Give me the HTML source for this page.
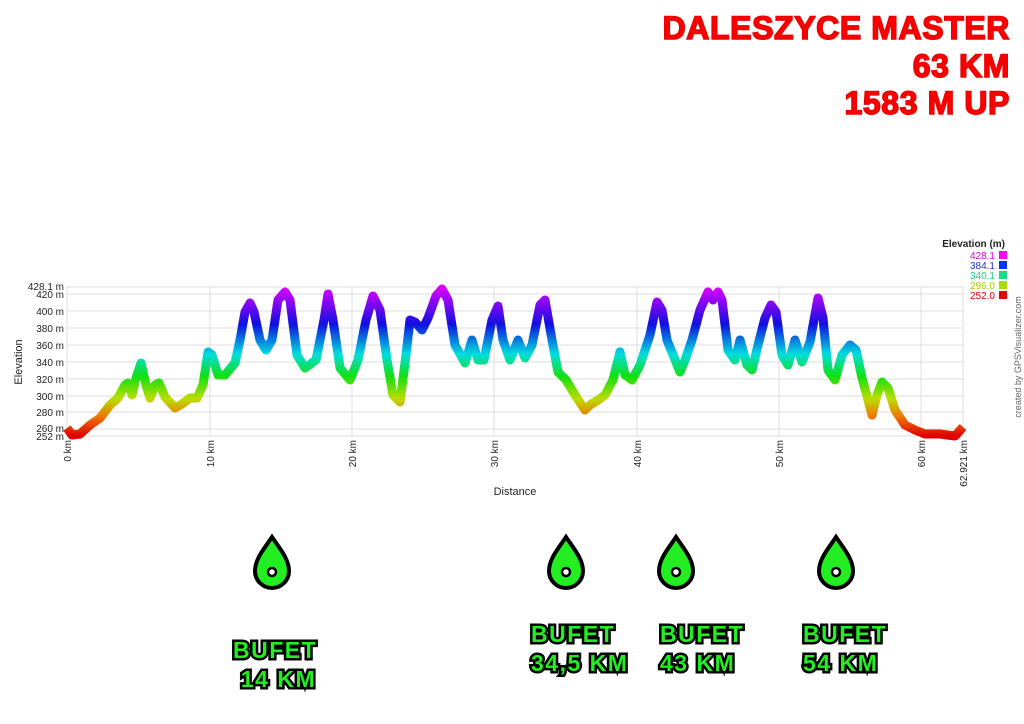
<!DOCTYPE html>
<html><head><meta charset="utf-8"><style>
html,body{margin:0;padding:0;background:#fff;}
body{width:1024px;height:724px;position:relative;overflow:hidden;font-family:"Liberation Sans",sans-serif;}
.t{position:absolute;right:14px;color:#ff0000;font-weight:900;font-size:32px;text-align:right;letter-spacing:0.6px;-webkit-text-stroke:1.5px #e00;}
.b{position:absolute;font-weight:900;font-size:23px;color:#22ee22;-webkit-text-stroke:5px #000;paint-order:stroke fill;line-height:29px;white-space:pre;letter-spacing:1.5px;}
</style></head><body>
<div class="t" style="top:10px">DALESZYCE MASTER</div>
<div class="t" style="top:48px">63 KM</div>
<div class="t" style="top:85px">1583 M UP</div>
<svg width="1024" height="724" style="position:absolute;left:0;top:0" font-family="Liberation Sans, sans-serif">
<defs>
<linearGradient id="g" gradientUnits="userSpaceOnUse" x1="0" y1="287" x2="0" y2="436">
<stop offset="0" stop-color="#dd00ff"/>
<stop offset="0.25" stop-color="#1010e0"/>
<stop offset="0.45" stop-color="#00dddd"/>
<stop offset="0.6" stop-color="#11e011"/>
<stop offset="0.75" stop-color="#bbdd00"/>
<stop offset="0.87" stop-color="#ee7700"/>
<stop offset="1" stop-color="#e00000"/>
</linearGradient>
<g id="drop"><path d="M0,-26 C-8,-14 -17,-4 -17,8 A17,17 0 0 0 17,8 C17,-4 8,-14 0,-26Z" fill="#22ee22" stroke="#000" stroke-width="4"/><circle cx="0" cy="9" r="4" fill="#fff" stroke="#000" stroke-width="2.5"/></g>
</defs>
<g stroke="#dcdcdc" stroke-width="1">
<line x1="67" y1="287" x2="963" y2="287"/>
<line x1="67" y1="294" x2="963" y2="294"/><line x1="67" y1="311" x2="963" y2="311"/><line x1="67" y1="328" x2="963" y2="328"/><line x1="67" y1="345" x2="963" y2="345"/><line x1="67" y1="362" x2="963" y2="362"/><line x1="67" y1="379" x2="963" y2="379"/><line x1="67" y1="396" x2="963" y2="396"/><line x1="67" y1="412" x2="963" y2="412"/><line x1="67" y1="429" x2="963" y2="429"/><line x1="67" y1="436" x2="963" y2="436"/>
<line x1="67" y1="287" x2="67" y2="436"/><line x1="210" y1="287" x2="210" y2="436"/><line x1="352" y1="287" x2="352" y2="436"/><line x1="494" y1="287" x2="494" y2="436"/><line x1="637" y1="287" x2="637" y2="436"/><line x1="779" y1="287" x2="779" y2="436"/><line x1="921" y1="287" x2="921" y2="436"/><line x1="963" y1="287" x2="963" y2="436"/>
</g>
<g font-size="10" fill="#222" text-anchor="end">
<text x="64" y="290">428.1 m</text><text x="64" y="298">420 m</text><text x="64" y="315">400 m</text><text x="64" y="332">380 m</text><text x="64" y="349">360 m</text><text x="64" y="366">340 m</text><text x="64" y="383">320 m</text><text x="64" y="400">300 m</text><text x="64" y="416">280 m</text><text x="64" y="432">260 m</text><text x="64" y="440">252 m</text>
</g>
<text transform="translate(22,362) rotate(-90)" font-size="11" fill="#222" text-anchor="middle">Elevation</text>
<g font-size="10" fill="#222" text-anchor="end">
<text transform="translate(71,440) rotate(-90)">0 km</text><text transform="translate(214,440) rotate(-90)">10 km</text><text transform="translate(356,440) rotate(-90)">20 km</text><text transform="translate(498,440) rotate(-90)">30 km</text><text transform="translate(641,440) rotate(-90)">40 km</text><text transform="translate(783,440) rotate(-90)">50 km</text><text transform="translate(925,440) rotate(-90)">60 km</text><text transform="translate(967,440) rotate(-90)">62.921 km</text>
</g>
<text x="515" y="495" font-size="11" fill="#222" text-anchor="middle">Distance</text>
<polyline fill="none" stroke="url(#g)" stroke-width="9" stroke-linejoin="round" points="67,428 72,435 80,434 90,425 100,418 110,405 118,398 125,385 128,383 132,395 136,378 141,363 146,385 150,398 155,385 159,383 165,397 175,408 182,404 190,398 197,398 203,385 208,352 212,355 218,375 225,375 235,363 240,340 245,312 250,303 254,312 260,340 266,350 272,340 278,300 285,292 290,300 297,355 305,368 316,360 324,320 328,294 333,320 340,368 350,380 358,360 366,320 373,296 380,310 387,360 393,395 400,402 406,355 410,320 415,322 422,330 428,318 436,296 442,289 448,300 455,345 465,363 472,340 478,360 484,360 492,320 498,306 503,340 510,360 518,340 525,358 532,345 540,305 545,300 552,340 558,372 566,380 575,395 585,410 590,405 598,400 605,395 613,380 620,352 625,375 632,380 640,365 650,335 657,302 662,310 667,340 680,372 685,360 692,340 700,310 708,292 713,300 718,292 722,300 728,350 735,360 740,340 747,365 752,370 758,345 765,318 771,305 776,312 782,355 788,365 795,340 802,362 810,342 818,298 823,318 828,370 835,380 842,355 850,345 856,350 862,378 868,400 872,415 877,395 882,382 888,388 895,410 905,425 915,430 925,434 940,434 955,436 963,427"/>
<text x="1005" y="247" font-size="10" font-weight="bold" fill="#222" text-anchor="end">Elevation (m)</text>
<g font-size="10" text-anchor="end">
<text x="995" y="259" fill="#dd00dd">428.1</text><text x="995" y="269" fill="#2233cc">384.1</text><text x="995" y="279" fill="#22cc88">340.1</text><text x="995" y="289" fill="#aacc00">296.0</text><text x="995" y="299" fill="#dd0000">252.0</text>
</g>
<rect x="999" y="251" width="8" height="8" fill="#ff00ff"/><rect x="999" y="261" width="8" height="8" fill="#0033ff"/><rect x="999" y="271" width="8" height="8" fill="#11dd88"/><rect x="999" y="281" width="8" height="8" fill="#aadd00"/><rect x="999" y="291" width="8" height="8" fill="#ee0000"/>
<text transform="translate(1021,357) rotate(-90)" font-size="9" fill="#666" text-anchor="middle">created by GPSVisualizer.com</text>
<use href="#drop" x="272" y="563"/><use href="#drop" x="566" y="563"/><use href="#drop" x="676" y="563"/><use href="#drop" x="836" y="563"/>
</svg>
<div class="b" style="left:233px;top:636px">BUFET
 14 KM</div>
<div class="b" style="left:531px;top:620px">BUFET
34,5 KM</div>
<div class="b" style="left:660px;top:620px">BUFET
43 KM</div>
<div class="b" style="left:803px;top:620px">BUFET
54 KM</div>
</body></html>
